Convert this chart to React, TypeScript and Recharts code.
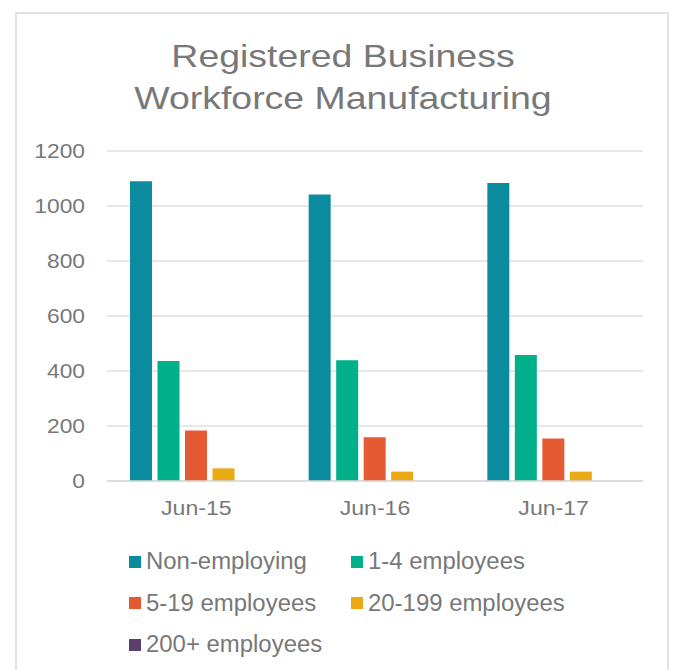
import { Bar, BarChart, CartesianGrid, Legend, XAxis, YAxis } from 'recharts'

const categories = ['Jun-15', 'Jun-16', 'Jun-17']
const nonEmploying = [1090, 1042, 1084]
const oneToFour = [436, 439, 458]
const fiveToNineteen = [184, 159, 155]
const twentyTo199 = [46, 34, 34]
const twoHundredPlus = [0, 0, 0]
const yTicks = [0, 200, 400, 600, 800, 1000, 1200]

const series = [
  { key: 'nonEmploying', name: 'Non-employing', color: '#0b8c9e', values: nonEmploying },
  { key: 'oneToFour', name: '1-4 employees', color: '#00b08a', values: oneToFour },
  { key: 'fiveToNineteen', name: '5-19 employees', color: '#e55a33', values: fiveToNineteen },
  { key: 'twentyTo199', name: '20-199 employees', color: '#eba914', values: twentyTo199 },
  { key: 'twoHundredPlus', name: '200+ employees', color: '#5b3f6e', values: twoHundredPlus },
]

const data = categories.map((category, i) => {
  const row: Record<string, string | number> = { category }
  series.forEach((s) => (row[s.key] = s.values[i]))
  return row
})

const FONT = '"Liberation Sans", Arial, sans-serif'
const TEXT = '#787878'

const YTick = ({ x, y, payload }: any) => (
  <text
    x={x}
    y={y}
    dy="0.36em"
    textAnchor="end"
    fill={TEXT}
    fontSize={20}
    fontFamily={FONT}
    transform={`translate(${x},0) scale(1.14,1) translate(${-x},0)`}
  >
    {payload.value}
  </text>
)

const XTick = ({ x, y, payload }: any) => (
  <text
    x={x}
    y={y}
    dy={34}
    textAnchor="middle"
    fill={TEXT}
    fontSize={21}
    fontFamily={FONT}
    transform={`translate(${x},0) scale(1.1,1) translate(${-x},0)`}
  >
    {payload.value}
  </text>
)

const LegendContent = () => (
  <div style={{ display: 'flex', flexWrap: 'wrap', width: 460 }}>
    {series.map((s) => (
      <div key={s.key} style={{ width: 222, height: 41.5, display: 'flex', alignItems: 'center' }}>
        <span style={{ width: 12, height: 12, background: s.color, marginRight: 5, flex: 'none' }} />
        <span
          style={{
            fontFamily: FONT,
            fontSize: 23,
            color: TEXT,
            whiteSpace: 'nowrap',
            display: 'inline-block',
            transform: 'scaleX(1.04)',
            transformOrigin: 'left center',
          }}
        >
          {s.name}
        </span>
      </div>
    ))}
  </div>
)

export default function App() {
  return (
    <div style={{ position: 'absolute', left: 0, top: 0, width: 675, height: 670, overflow: 'hidden', background: '#fff' }}>
      <div
        style={{
          position: 'absolute',
          left: 15,
          top: 12,
          width: 654,
          height: 700,
          border: '2px solid #e2e2e2',
          boxSizing: 'border-box',
        }}
      />
      <svg width={675} height={130} style={{ position: 'absolute', left: 0, top: 0 }}>
        <g transform="translate(343,0) scale(1.17,1) translate(-343,0)" fill={TEXT} fontFamily={FONT} fontSize={32}>
          <text x={343} y={67} textAnchor="middle">
            Registered Business
          </text>
          <text x={343} y={109} textAnchor="middle">
            Workforce Manufacturing
          </text>
        </g>
      </svg>
      <div style={{ position: 'absolute', left: 0, top: 0 }}>
        <BarChart
          width={675}
          height={670}
          data={data}
          margin={{ top: 151, right: 32, left: 0, bottom: 159 }}
          barSize={22}
          barGap={5.5}
        >
          <CartesianGrid vertical={false} stroke="#e0e0e0" strokeWidth={1.5} />
          <XAxis
            dataKey="category"
            height={30}
            tickLine={false}
            tickSize={0}
            tickMargin={0}
            axisLine={{ stroke: '#d9d9d9', strokeWidth: 1.5 }}
            tick={<XTick />}
            interval={0}
          />
          <YAxis
            width={107}
            domain={[0, 1200]}
            ticks={yTicks}
            axisLine={false}
            tickLine={false}
            tickSize={0}
            tickMargin={22}
            tick={<YTick />}
          />
          <Legend
            layout="horizontal"
            verticalAlign="middle"
            align="center"
            content={<LegendContent />}
            wrapperStyle={{ position: 'absolute', top: 541, left: 129, width: 460 }}
          />
          {series.map((s) => (
            <Bar key={s.key} dataKey={s.key} name={s.name} fill={s.color} isAnimationActive={false} />
          ))}
        </BarChart>
      </div>
    </div>
  )
}
